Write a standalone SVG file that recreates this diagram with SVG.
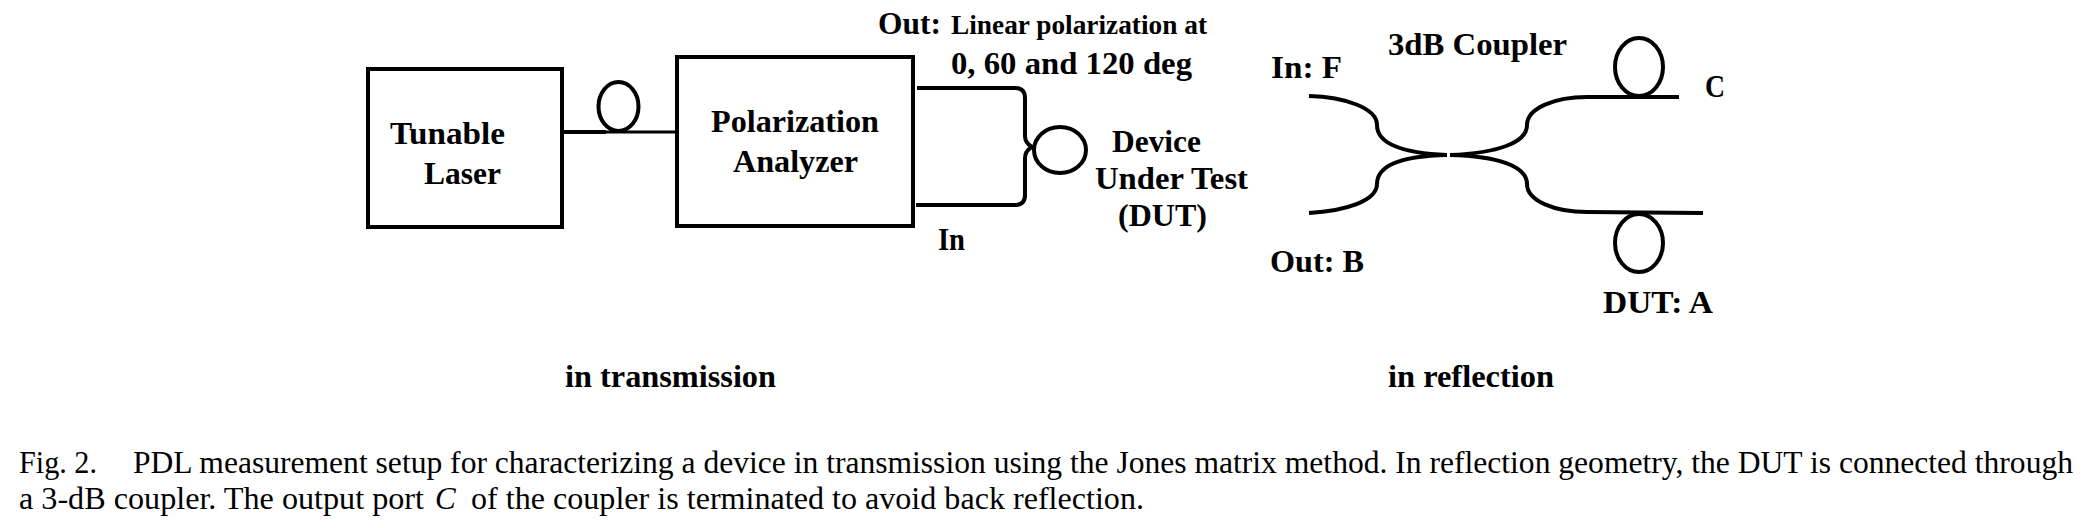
<svg xmlns="http://www.w3.org/2000/svg" width="2095" height="528" viewBox="0 0 2095 528">
<style>
text{font-family:"Liberation Serif","Times New Roman",serif;fill:#000}
.l{font-weight:bold;font-size:32px}
.s{font-weight:bold;font-size:27px}
.c{font-size:31px}
.box{fill:#fff;stroke:#000;stroke-width:4}
.f{fill:none;stroke:#000;stroke-width:3}
.t{fill:none;stroke:#000;stroke-width:4}
</style>
<rect width="2095" height="528" fill="#fff"/>
<g id="connectors">
<path class="f" d="M606 132H676"/>
<path class="t" d="M562 132H606"/>
<path class="t" d="M917 88H1015Q1025 88 1025 98V136Q1025 143 1032 147Q1025 151 1025 158V195Q1025 205 1015 205H916"/>
<path class="t" d="M1309 96C1345 97 1377 108 1377 125C1377 143 1400 153 1447 155"/>
<path class="t" d="M1450 155C1497 153 1527 143 1527 125C1527 108 1555 97 1587 97H1679"/>
<path class="t" d="M1309 213C1345 211 1377 201 1377 184C1377 166 1400 156 1447 155"/>
<path class="t" d="M1450 155C1497 156 1527 166 1527 184C1527 201 1555 212 1587 212L1703 213"/>
</g>
<g id="laser"><rect class="box" x="368" y="69" width="194" height="158"/>
<text class="l" x="390" y="144" textLength="115" lengthAdjust="spacingAndGlyphs">Tunable</text><text class="l" x="424" y="184" textLength="77" lengthAdjust="spacingAndGlyphs">Laser</text></g>
<g id="analyzer"><rect class="box" x="677" y="57" width="236" height="169"/>
<text class="l" x="711" y="132" textLength="168" lengthAdjust="spacingAndGlyphs">Polarization</text><text class="l" x="733" y="172" textLength="125" lengthAdjust="spacingAndGlyphs">Analyzer</text></g>
<g id="loop1"><ellipse class="t" cx="618.5" cy="106.5" rx="20" ry="24.5"/></g>
<g id="dut"><ellipse class="t" cx="1060" cy="150" rx="26" ry="23"/>
<text class="l" x="1112" y="152" textLength="89" lengthAdjust="spacingAndGlyphs">Device</text><text class="l" x="1095" y="189" textLength="153" lengthAdjust="spacingAndGlyphs">Under Test</text><text class="l" x="1118" y="226" textLength="89" lengthAdjust="spacingAndGlyphs">(DUT)</text></g>
<g id="labels-out"><text class="l" x="878" y="34" textLength="63" lengthAdjust="spacingAndGlyphs">Out:</text><text class="s" x="951" y="34" textLength="256" lengthAdjust="spacingAndGlyphs">Linear polarization at</text>
<text class="l" x="951" y="74" textLength="241" lengthAdjust="spacingAndGlyphs">0, 60 and 120 deg</text>
<text class="l" x="938" y="250" textLength="27" lengthAdjust="spacingAndGlyphs">In</text></g>
<g id="coupler"><text class="l" x="1388" y="55" textLength="179" lengthAdjust="spacingAndGlyphs">3dB Coupler</text>
<text class="l" x="1271" y="78" textLength="71" lengthAdjust="spacingAndGlyphs">In: F</text><text class="l" x="1270" y="272" textLength="94" lengthAdjust="spacingAndGlyphs">Out: B</text>
<text class="l" x="1705" y="97" textLength="20" lengthAdjust="spacingAndGlyphs">C</text><text class="l" x="1603" y="313" textLength="110" lengthAdjust="spacingAndGlyphs">DUT: A</text>
<ellipse class="t" cx="1639" cy="67" rx="24" ry="29"/><ellipse class="t" cx="1639" cy="243" rx="24" ry="29"/></g>
<text class="l" x="565" y="387" textLength="211" lengthAdjust="spacingAndGlyphs">in transmission</text>
<text class="l" x="1388" y="387" textLength="166" lengthAdjust="spacingAndGlyphs">in reflection</text>
<g id="caption">
<text class="c" x="19" y="473" textLength="78" lengthAdjust="spacingAndGlyphs">Fig. 2.</text>
<text class="c" x="133" y="473" textLength="1940" lengthAdjust="spacingAndGlyphs">PDL measurement setup for characterizing a device in transmission using the Jones matrix method. In reflection geometry, the DUT is connected through</text>
<text class="c" x="19" y="509" textLength="405" lengthAdjust="spacingAndGlyphs">a 3-dB coupler. The output port</text>
<text class="c" x="435" y="509" font-style="italic">C</text>
<text class="c" x="471" y="509" textLength="673" lengthAdjust="spacingAndGlyphs">of the coupler is terminated to avoid back reflection.</text>
</g>
</svg>
